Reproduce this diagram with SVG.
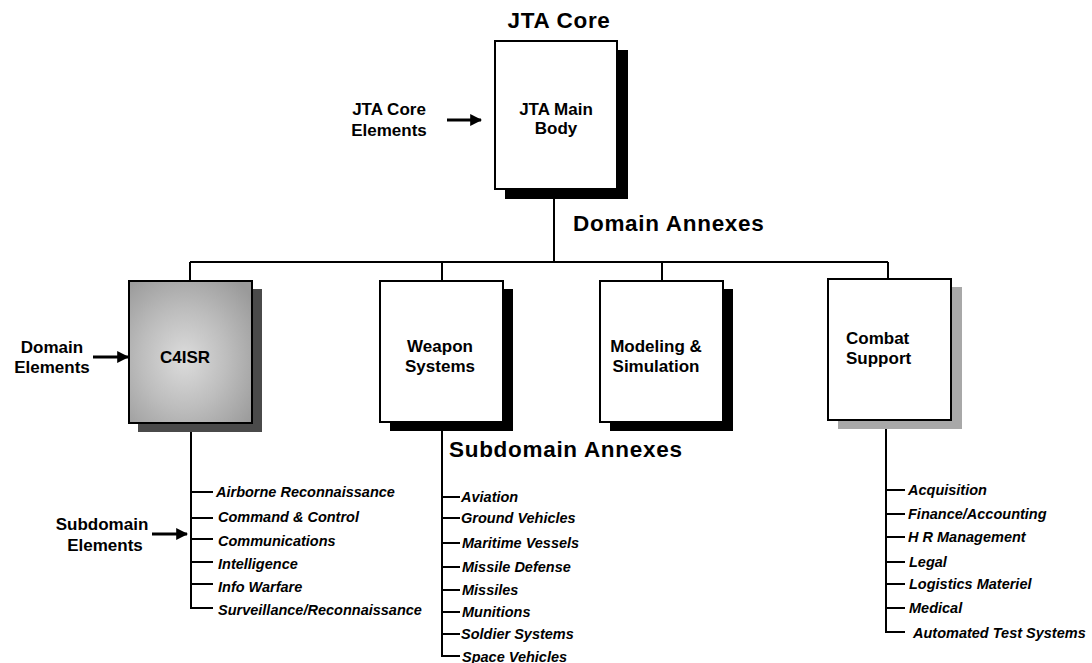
<svg xmlns="http://www.w3.org/2000/svg" width="1092" height="663" viewBox="0 0 1092 663">
<style>
.bx{stroke:#000;stroke-width:2;fill:#fff}
.ln{stroke:#000;stroke-width:2;fill:none}
.hd{font-family:"Liberation Sans",Arial,sans-serif;font-weight:bold;font-size:22.5px;letter-spacing:0.7px;fill:#000}
.lb{font-family:"Liberation Sans",Arial,sans-serif;font-weight:bold;font-size:17px;fill:#000}
.it{font-family:"Liberation Sans",Arial,sans-serif;font-weight:bold;font-style:italic;font-size:14.5px;fill:#000}
.ar{stroke:#000;stroke-width:3;fill:none}
</style>
<defs>
<marker id="ah" viewBox="0 0 10 10" refX="9" refY="5" markerWidth="4" markerHeight="4" orient="auto" markerUnits="strokeWidth">
<path d="M0,0 L10,5 L0,10 z" fill="#000"/>
</marker>
<radialGradient id="g4" cx="0.45" cy="0.55" r="0.7">
<stop offset="0" stop-color="#dcdcdc"/>
<stop offset="0.5" stop-color="#bdbdbd"/>
<stop offset="1" stop-color="#9a9a9a"/>
</radialGradient>
</defs>
<rect width="1092" height="663" fill="#fff"/>

<g id="connectors">
<line class="ln" x1="554" y1="189" x2="554" y2="263"/>
<line class="ln" x1="190" y1="262" x2="888" y2="262"/>
<line class="ln" x1="190" y1="262" x2="190" y2="281"/>
<line class="ln" x1="442" y1="262" x2="442" y2="281"/>
<line class="ln" x1="662" y1="262" x2="662" y2="281"/>
<line class="ln" x1="888" y1="262" x2="888" y2="279"/>
<line class="ar" x1="447" y1="120" x2="481" y2="120" marker-end="url(#ah)"/>
<line class="ar" x1="93" y1="357" x2="128" y2="357" marker-end="url(#ah)"/>
<line class="ar" x1="152" y1="534" x2="187" y2="534" marker-end="url(#ah)"/>
<path class="ln" d="M191,423 V608 H213 M191,492 H213 M191,518 H213 M191,539 H213 M191,562 H213 M191,584 H213"/>
<path class="ln" d="M442,422 V656 H460 M442,497 H460 M442,518 H460 M442,543 H460 M442,567 H460 M442,590 H460 M442,612 H460 M442,634 H460"/>
<path class="ln" d="M886,420 V632 H905 M886,490 H905 M886,514 H905 M886,537 H905 M886,562 H905 M886,584 H905 M886,608 H905"/>
</g>

<text class="hd" x="559" y="28" text-anchor="middle">JTA Core</text>
<text class="hd" x="573" y="231">Domain Annexes</text>
<text class="hd" x="449" y="457">Subdomain Annexes</text>

<g id="jta-core-elements">
<text class="lb" x="389" y="115" text-anchor="middle">JTA Core</text>
<text class="lb" x="389" y="136" text-anchor="middle">Elements</text>
</g>
<g id="domain-elements">
<text class="lb" x="52" y="353" text-anchor="middle">Domain</text>
<text class="lb" x="52" y="373" text-anchor="middle">Elements</text>
</g>
<g id="subdomain-elements">
<text class="lb" x="102" y="530" text-anchor="middle">Subdomain</text>
<text class="lb" x="105" y="551" text-anchor="middle">Elements</text>
</g>

<g id="jta-main-body">
<rect x="505" y="50" width="123" height="149" fill="#000"/>
<rect class="bx" x="495" y="41" width="122" height="148"/>
<text class="lb" x="556" y="115" text-anchor="middle">JTA Main</text>
<text class="lb" x="556" y="134" text-anchor="middle">Body</text>
</g>

<g id="c4isr">
<rect x="138" y="289" width="124" height="143" fill="#4a4a4a"/>
<rect x="129" y="281" width="123" height="142" fill="url(#g4)" stroke="#000" stroke-width="2"/>
<text class="lb" x="185" y="363" text-anchor="middle">C4ISR</text>
</g>

<g id="weapon-systems">
<rect x="390" y="289" width="123" height="142" fill="#000"/>
<rect class="bx" x="380" y="281" width="123" height="141"/>
<text class="lb" x="440" y="352" text-anchor="middle">Weapon</text>
<text class="lb" x="440" y="372" text-anchor="middle">Systems</text>
</g>

<g id="modeling-simulation">
<rect x="610" y="289" width="123" height="142" fill="#000"/>
<rect class="bx" x="600" y="281" width="123" height="141"/>
<text class="lb" x="656" y="352" text-anchor="middle">Modeling &amp;</text>
<text class="lb" x="656" y="372" text-anchor="middle">Simulation</text>
</g>

<g id="combat-support">
<rect x="838" y="287" width="124" height="142" fill="#a8a8a8"/>
<rect class="bx" x="828" y="279" width="123" height="141"/>
<text class="lb" x="846" y="344">Combat</text>
<text class="lb" x="846" y="364">Support</text>
</g>

<g id="c4isr-subdomains">
<text class="it" x="216" y="497">Airborne Reconnaissance</text>
<text class="it" x="218" y="522">Command &amp; Control</text>
<text class="it" x="218" y="546">Communications</text>
<text class="it" x="218" y="569">Intelligence</text>
<text class="it" x="218" y="592">Info Warfare</text>
<text class="it" x="218" y="615">Surveillance/Reconnaissance</text>
</g>

<g id="weapon-subdomains">
<text class="it" x="461" y="502">Aviation</text>
<text class="it" x="461" y="523">Ground Vehicles</text>
<text class="it" x="462" y="548">Maritime Vessels</text>
<text class="it" x="462" y="572">Missile Defense</text>
<text class="it" x="462" y="595">Missiles</text>
<text class="it" x="462" y="617">Munitions</text>
<text class="it" x="461" y="639">Soldier Systems</text>
<text class="it" x="462" y="662">Space Vehicles</text>
</g>

<g id="combat-subdomains">
<text class="it" x="908" y="495">Acquisition</text>
<text class="it" x="908" y="519">Finance/Accounting</text>
<text class="it" x="908" y="542">H R Management</text>
<text class="it" x="909" y="567">Legal</text>
<text class="it" x="909" y="589">Logistics Materiel</text>
<text class="it" x="909" y="613">Medical</text>
<text class="it" x="913" y="638">Automated Test Systems</text>
</g>
</svg>
